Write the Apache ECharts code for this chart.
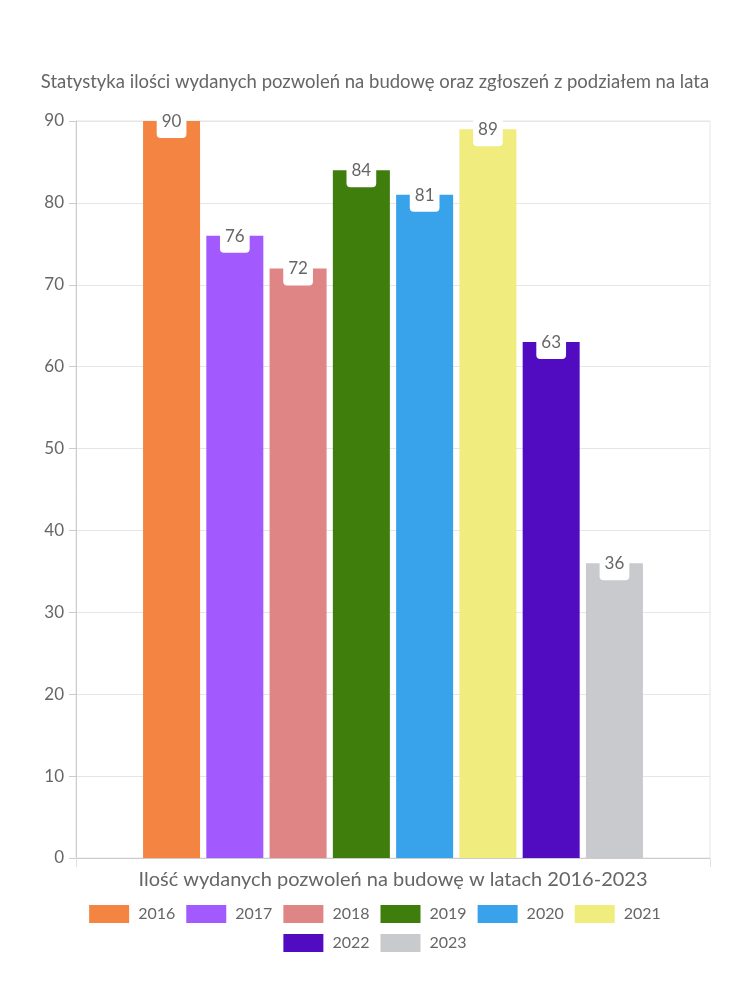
<!DOCTYPE html>
<html>
<head>
<meta charset="utf-8">
<script src="https://cdn.jsdelivr.net/npm/echarts@6/dist/echarts.min.js"></script>
<style>
html,body{margin:0;padding:0;background:#fff;}
#chart{width:750px;height:1000px;}
</style>
</head>
<body>
<div id="chart"></div>
<script>
const titleText = 'Statystyka ilości wydanych pozwoleń na budowę oraz zgłoszeń z podziałem na lata';
const axisTitle = 'Ilość wydanych pozwoleń na budowę w latach 2016-2023';
const categories = [''];
const years = ['2016', '2017', '2018', '2019', '2020', '2021', '2022', '2023'];
const values = [90, 76, 72, 84, 81, 89, 63, 36];
const colors = ['#F48442', '#A259FE', '#E08585', '#3F7D0D', '#38A3EA', '#F0EC7E', '#510CC1', '#C9CACD'];
const yTicks = [0, 10, 20, 30, 40, 50, 60, 70, 80, 90];

const FONT = 'Lato';
const TXT = '#666666';

const chart = echarts.init(document.getElementById('chart'), null, {renderer: 'canvas'});

const series = years.map((y, i) => ({
  name: y,
  type: 'bar',
  data: [values[i]],
  barWidth: 57,
  barGap: '11%',
  itemStyle: {color: colors[i]},
  label: {
    show: true,
    position: 'top',
    distance: -17,
    color: TXT,
    fontFamily: FONT,
    fontSize: 17,
    backgroundColor: '#ffffff',
    borderRadius: 4,
    padding: [8, 5, 8, 5]
  },
  emphasis: {disabled: true}
}));

const legendCommon = {
  left: 'center',
  orient: 'horizontal',
  itemWidth: 40,
  itemHeight: 18,
  itemGap: 11,
  icon: 'rect',
  textStyle: {color: TXT, fontFamily: FONT, fontSize: 16, padding: [0, 0, 0, 4]},
  selectedMode: false
};

chart.setOption({
  animation: false,
  backgroundColor: '#ffffff',
  title: {
    text: titleText,
    left: 'center',
    top: 68,
    textStyle: {color: TXT, fontFamily: FONT, fontSize: 18.5, fontWeight: 'normal'}
  },
  legend: [
    Object.assign({}, legendCommon, {top: 900, data: years.slice(0, 6)}),
    Object.assign({}, legendCommon, {top: 929, data: years.slice(6)})
  ],
  grid: {
    left: 76, right: 40, top: 121, bottom: 142,
    show: true, borderColor: '#e5e5e5', borderWidth: 1
  },
  xAxis: {
    type: 'category',
    data: categories,
    name: axisTitle,
    nameLocation: 'middle',
    nameGap: 12,
    nameTextStyle: {color: TXT, fontFamily: FONT, fontSize: 20},
    axisLine: {show: true, lineStyle: {color: '#cccccc'}},
    axisTick: {show: true, length: 9, lineStyle: {color: '#e0e0e0'}},
    axisLabel: {show: false},
    splitLine: {show: false}
  },
  yAxis: {
    type: 'value',
    min: yTicks[0],
    max: yTicks[yTicks.length - 1],
    interval: 10,
    axisLine: {show: true, lineStyle: {color: '#cccccc'}},
    axisTick: {show: true, length: 7, lineStyle: {color: '#cccccc'}},
    axisLabel: {color: TXT, fontFamily: FONT, fontSize: 17, margin: 12},
    splitLine: {show: true, lineStyle: {color: '#e6e6e6'}}
  },
  series: series
});
</script>
</body>
</html>
